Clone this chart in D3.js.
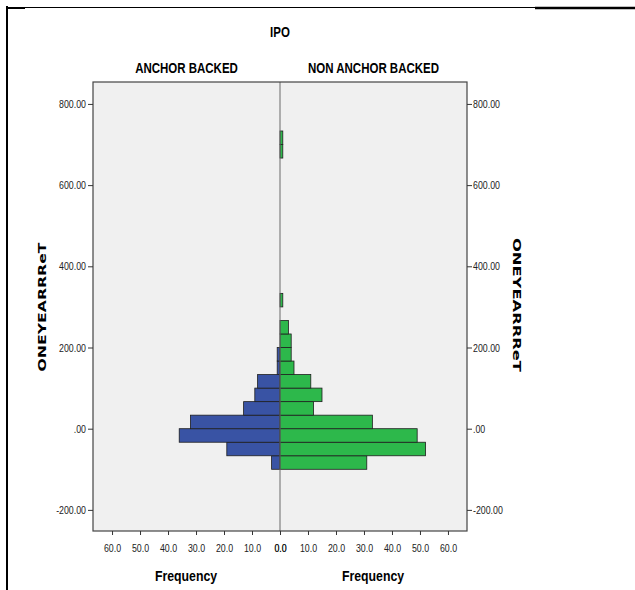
<!DOCTYPE html>
<html>
<head>
<meta charset="utf-8">
<script src="https://cdn.jsdelivr.net/npm/d3@7"></script>
<style>
  body { margin: 0; background: #fff; }
  svg { display: block; }
</style>
</head>
<body>
<svg id="chart" width="635" height="590"></svg>
<script>
// lower edges of the histogram bins (bin width is 100/3)
const binLower = [-100, -66.67, -33.33, 0, 33.33, 66.67, 100, 133.33, 166.67, 200, 233.33, 300, 666.67, 700];
const anchorCounts = [3, 19, 36, 32, 13, 9, 8, 1, 1, 0, 0, 0, 0, 0];
const nonAnchorCounts = [31, 52, 49, 33, 12, 15, 11, 5, 4, 4, 3, 1, 1, 1];
const yTicks = [-200, 0, 200, 400, 600, 800];
const xTicks = [0, 10, 20, 30, 40, 50, 60];
const panelTitles = ["ANCHOR BACKED", "NON ANCHOR BACKED"];
const binWidth = 100 / 3;

const sans = "'Liberation Sans', Arial, sans-serif";
const svg = d3.select("#chart");

const plot = { left: 93, right: 467, top: 82, bottom: 531 };
const center = 280;

const y = d3.scaleLinear().domain([-252, 854]).range([plot.bottom, plot.top]);
const xLeft = d3.scaleLinear().domain([0, 66.8]).range([center, plot.left]);
const xRight = d3.scaleLinear().domain([0, 66.8]).range([center, plot.right]);

// squeeze text horizontally to look like a narrow face
function narrowify(sel, k) {
  sel.each(function () {
    const w = this.getComputedTextLength();
    d3.select(this).attr("textLength", w * k).attr("lengthAdjust", "spacingAndGlyphs");
  });
}

// outer frame lines
svg.append("line").attr("x1", 7).attr("x2", 7).attr("y1", 6).attr("y2", 590)
  .attr("stroke", "#000").attr("stroke-width", 2);
svg.append("line").attr("x1", 7).attr("x2", 535).attr("y1", 7.5).attr("y2", 7.5)
  .attr("stroke", "#000").attr("stroke-width", 1);
svg.append("line").attr("x1", 7).attr("x2", 25).attr("y1", 8).attr("y2", 8)
  .attr("stroke", "#000").attr("stroke-width", 2);
svg.append("line").attr("x1", 535).attr("x2", 635).attr("y1", 8).attr("y2", 8)
  .attr("stroke", "#000").attr("stroke-width", 2.5);

// plot background
svg.append("rect")
  .attr("x", plot.left).attr("y", plot.top)
  .attr("width", plot.right - plot.left).attr("height", plot.bottom - plot.top)
  .attr("fill", "#f0f0f0");

const bins = binLower.map((lo, i) => ({ lo: lo, hi: lo + binWidth, a: anchorCounts[i], n: nonAnchorCounts[i] }));

svg.append("g").selectAll("rect")
  .data(bins.filter(d => d.a > 0))
  .join("rect")
  .attr("x", d => xLeft(d.a))
  .attr("y", d => y(d.hi))
  .attr("width", d => center - xLeft(d.a))
  .attr("height", d => y(d.lo) - y(d.hi))
  .attr("fill", "#3953a4")
  .attr("stroke", "#1e1e1e")
  .attr("stroke-width", 0.8);

svg.append("g").selectAll("rect")
  .data(bins.filter(d => d.n > 0))
  .join("rect")
  .attr("x", center)
  .attr("y", d => y(d.hi))
  .attr("width", d => xRight(d.n) - center)
  .attr("height", d => y(d.lo) - y(d.hi))
  .attr("fill", "#2db84b")
  .attr("stroke", "#1e1e1e")
  .attr("stroke-width", 0.8);

// centre divider
svg.append("line")
  .attr("x1", center).attr("x2", center)
  .attr("y1", plot.top).attr("y2", plot.bottom)
  .attr("stroke", "#6a6a6a").attr("stroke-width", 1);

// plot border
svg.append("rect")
  .attr("x", plot.left).attr("y", plot.top)
  .attr("width", plot.right - plot.left).attr("height", plot.bottom - plot.top)
  .attr("fill", "none").attr("stroke", "#444").attr("stroke-width", 1.2);

const fmtY = v => v === 0 ? ".00" : v.toFixed(2);

function styleAxis(g) {
  g.select(".domain").remove();
  g.selectAll(".tick line").attr("stroke", "#333");
  g.selectAll(".tick text")
    .attr("fill", "#222")
    .style("font-family", sans)
    .style("font-size", "11px")
    .call(narrowify, 0.8);
}

svg.append("g")
  .attr("transform", `translate(${plot.left},0)`)
  .call(d3.axisLeft(y).tickValues(yTicks).tickFormat(fmtY).tickSize(5).tickPadding(2))
  .call(styleAxis);

svg.append("g")
  .attr("transform", `translate(${plot.right},0)`)
  .call(d3.axisRight(y).tickValues(yTicks).tickFormat(fmtY).tickSize(5).tickPadding(1))
  .call(styleAxis);

svg.append("g")
  .attr("transform", `translate(0,${plot.bottom})`)
  .call(d3.axisBottom(xLeft).tickValues(xTicks).tickFormat(d3.format(".1f")).tickSize(4).tickPadding(9))
  .call(styleAxis);

svg.append("g")
  .attr("transform", `translate(0,${plot.bottom})`)
  .call(d3.axisBottom(xRight).tickValues(xTicks).tickFormat(d3.format(".1f")).tickSize(4).tickPadding(9))
  .call(styleAxis);

// titles
svg.append("text")
  .attr("x", center).attr("y", 37)
  .attr("text-anchor", "middle")
  .style("font-family", sans).style("font-size", "14px").style("font-weight", "bold")
  .text("IPO")
  .call(narrowify, 0.82);

svg.selectAll(".panel-title")
  .data(panelTitles)
  .join("text")
  .attr("class", "panel-title")
  .attr("x", (d, i) => i === 0 ? 186.5 : 373.5)
  .attr("y", 73)
  .attr("text-anchor", "middle")
  .style("font-family", sans).style("font-size", "14px").style("font-weight", "bold")
  .text(d => d)
  .call(narrowify, 0.82);

svg.selectAll(".freq")
  .data([186, 373])
  .join("text")
  .attr("class", "freq")
  .attr("x", d => d).attr("y", 581)
  .attr("text-anchor", "middle")
  .style("font-family", sans).style("font-size", "15px").style("font-weight", "bold")
  .text("Frequency")
  .call(narrowify, 0.82);

svg.append("text")
  .attr("transform", "translate(46,307) rotate(-90)")
  .attr("text-anchor", "middle")
  .attr("textLength", 129).attr("lengthAdjust", "spacingAndGlyphs")
  .style("font-family", "'DejaVu Sans', sans-serif").style("font-size", "11px").style("font-weight", "bold")
  .text("ONEYEARRReT");

svg.append("text")
  .attr("transform", "translate(513,305) rotate(90)")
  .attr("text-anchor", "middle")
  .attr("textLength", 134).attr("lengthAdjust", "spacingAndGlyphs")
  .style("font-family", "'DejaVu Sans', sans-serif").style("font-size", "11px").style("font-weight", "bold")
  .text("ONEYEARRReT");
</script>
</body>
</html>
